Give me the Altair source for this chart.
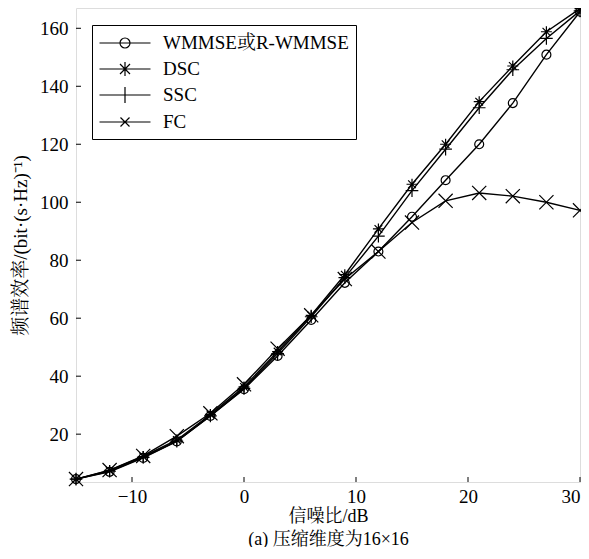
import altair as alt
import pandas as pd

snr = [-15, -12, -9, -6, -3, 0, 3, 6, 9, 12, 15, 18, 21, 24, 27, 30]
wmmse = [4.5, 7.0, 11.8, 17.5, 26.3, 35.5, 47.0, 59.4, 72.2, 83.0, 95.0, 107.6, 120.0, 134.2, 150.9, 165.7]
dsc = [4.5, 7.5, 12.3, 18.0, 26.8, 36.3, 48.5, 61.0, 75.0, 90.8, 106.2, 120.0, 134.7, 147.0, 158.8, 166.8]
ssc = [4.5, 7.2, 12.0, 17.6, 26.3, 35.8, 47.8, 60.5, 74.0, 88.3, 104.0, 118.3, 132.6, 145.7, 156.5, 166.0]
fc = [4.5, 7.6, 12.5, 19.3, 27.2, 37.2, 49.5, 61.0, 73.5, 83.0, 93.0, 100.5, 103.2, 102.1, 100.0, 97.2]

series_names = ["WMMSE或R-WMMSE", "DSC", "SSC", "FC"]
series_values = [wmmse, dsc, ssc, fc]
x_ticks = [-10, 0, 10, 20, 30]
y_ticks = [20, 40, 60, 80, 100, 120, 140, 160]

rows = []
for name, vals in zip(series_names, series_values):
    for xv, yv in zip(snr, vals):
        rows.append({"series": name, "x": xv, "y": yv})
df = pd.DataFrame(rows)

FONT = "Times New Roman, Liberation Serif, Noto Serif CJK SC, Noto Sans CJK SC, serif"
W, H = 504, 474

marker_paths = [
    "circle",
    "M0,-1L0,1M-1,0L1,0M-0.7,-0.7L0.7,0.7M-0.7,0.7L0.7,-0.7",
    "M0,-1L0,1M-1,0L1,0",
    "M-1,-1L1,1M-1,1L1,-1",
]
legend_paths = [
    "M-2.55,0L2.55,0M0.5,0A0.5,0.5,0,1,1,-0.5,0A0.5,0.5,0,1,1,0.5,0",
    "M-2.55,0L2.55,0M0,-0.7L0,0.7M-0.5,-0.5L0.5,0.5M-0.5,0.5L0.5,-0.5",
    "M-2.55,0L2.55,0M0,-0.8L0,0.8",
    "M-2.55,0L2.55,0M-0.45,-0.45L0.45,0.45M-0.45,0.45L0.45,-0.45",
]

xscale = alt.Scale(domain=[-15, 30], nice=False, zero=False)
yscale = alt.Scale(domain=[3.5, 167], nice=False, zero=False)

x_enc = alt.X("x:Q", scale=xscale, axis=alt.Axis(
    values=x_ticks, ticks=False, domain=False, grid=False,
    labelFlush=True, labelFlushOffset=0,
    title=["信噪比/dB", "(a) 压缩维度为16×16"], titleFontSize=18, titleFontWeight="normal",
    titleFont=FONT, titlePadding=1, titleLineHeight=23,
    labelFont=FONT, labelFontSize=19, labelPadding=5, labelColor="black", titleColor="black"))
y_enc = alt.Y("y:Q", scale=yscale, axis=alt.Axis(
    values=y_ticks, ticks=False, domain=False, grid=False,
    title="频谱效率/(bit·(s·Hz)⁻¹)", titleFontSize=19, titleFontWeight="normal",
    titleFont=FONT, titlePadding=9,
    labelFont=FONT, labelFontSize=19, labelPadding=8, labelColor="black", titleColor="black"))

lines = alt.Chart(df).mark_line(color="black", strokeWidth=1.4).encode(
    x=x_enc, y=y_enc, detail="series:N")

points = alt.Chart(df).mark_point(filled=False, color="black", strokeWidth=1.2, opacity=1).encode(
    x="x:Q", y="y:Q",
    shape=alt.Shape("series:N", scale=alt.Scale(domain=series_names, range=marker_paths), legend=None),
    size=alt.Size("series:N", scale=alt.Scale(domain=series_names, range=[80, 200, 260, 40]), legend=None),
)

legend_layer = alt.Chart(df).mark_point(filled=False, color="black", opacity=0, size=400).encode(
    x="x:Q", y="y:Q",
    shape=alt.Shape("series:N", scale=alt.Scale(domain=series_names, range=legend_paths),
                    legend=alt.Legend(
                        title=None, orient="none", legendX=16, legendY=17,
                        fillColor="white", strokeColor="black",
                        padding=7, rowPadding=5, symbolOffset=15, labelOffset=27,
                        symbolSize=400, symbolStrokeWidth=1.2, symbolStrokeColor="black",
                        symbolFillColor="transparent", symbolOpacity=1,
                        labelFont=FONT, labelFontSize=19, labelColor="black",
                        labelLimit=400)),
)

xt = pd.DataFrame({"x": x_ticks})
yt = pd.DataFrame({"y": y_ticks})
xtick_layer = alt.Chart(xt).mark_rule(color="black", strokeWidth=1).encode(
    x="x:Q", y=alt.value(H), y2=alt.value(H - 5))
ytick_layer = alt.Chart(yt).mark_rule(color="black", strokeWidth=1).encode(
    y="y:Q", x=alt.value(0), x2=alt.value(5))

chart = alt.layer(lines, points, legend_layer, xtick_layer, ytick_layer).resolve_scale(
    shape="independent", size="independent"
).properties(
    width=W, height=H,
    autosize=alt.AutoSizeParams(type="none"),
    padding={"left": 68, "top": 0, "right": 1, "bottom": 65},
).configure_view(stroke="black", strokeWidth=1.5).configure_legend(
    strokeWidth=1.5
).configure(background="white")

chart.save("out.html", embed_options={"renderer": "svg", "actions": False})
